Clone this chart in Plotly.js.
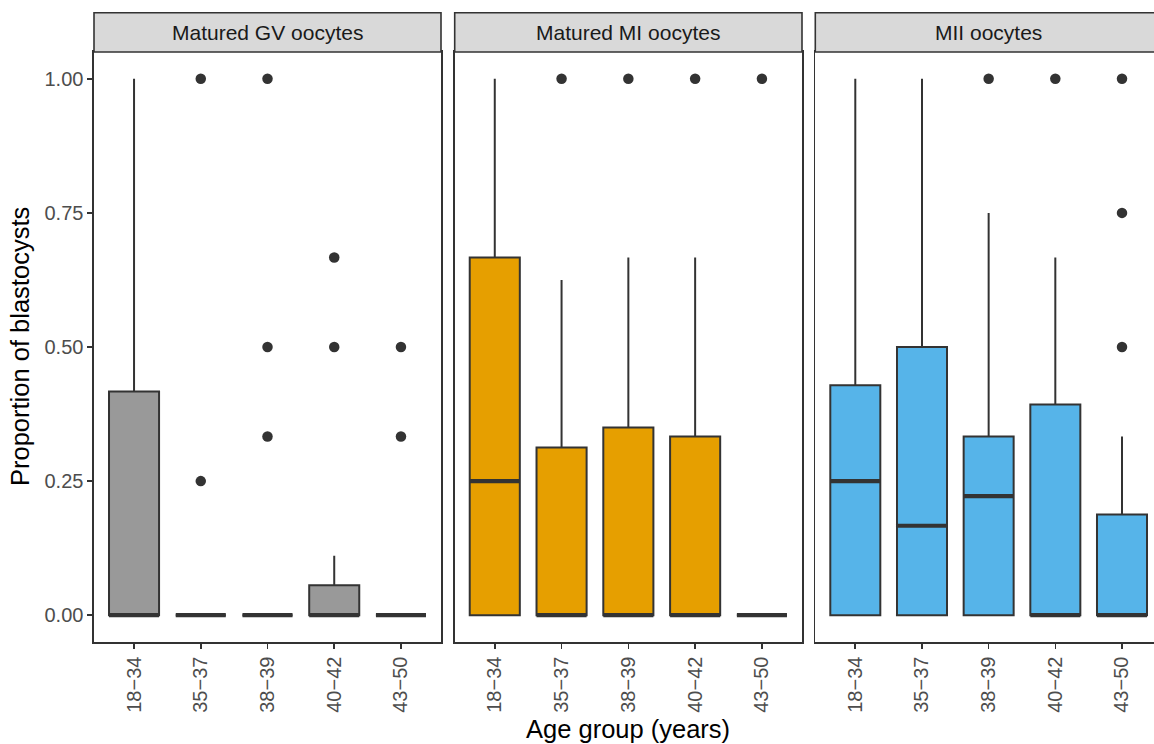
<!DOCTYPE html>
<html>
<head>
<meta charset="utf-8">
<script src="https://cdn.plot.ly/plotly-3.0.1.min.js"></script>
<style>html,body{margin:0;padding:0;overflow:hidden;background:#fff}</style>
</head>
<body>
<div id="chart" style="width:1173px;height:744px"></div>
<script>
// ---- data ----
const ageGroups = ["18\u221234", "35\u221237", "38\u221239", "40\u221242", "43\u221250"];
const panelNames = ["Matured GV oocytes", "Matured MI oocytes", "MII oocytes"];
const panelColors = ["#999999", "#E69F00", "#56B4E9"];

// Matured GV oocytes
const gvQ1     = [0, 0, 0, 0, 0];
const gvMedian = [0, 0, 0, 0, 0];
const gvQ3     = [0.417, 0, 0, 0.056, 0];
const gvLower  = [0, 0, 0, 0, 0];
const gvUpper  = [1.0, 0, 0, 0.111, 0];
const gvOutX   = [2, 2, 3, 3, 3, 4, 4, 5, 5];
const gvOutY   = [1.0, 0.25, 1.0, 0.5, 0.333, 0.667, 0.5, 0.5, 0.333];

// Matured MI oocytes
const miQ1     = [0, 0, 0, 0, 0];
const miMedian = [0.25, 0, 0, 0, 0];
const miQ3     = [0.667, 0.3125, 0.35, 0.333, 0];
const miLower  = [0, 0, 0, 0, 0];
const miUpper  = [1.0, 0.625, 0.667, 0.667, 0];
const miOutX   = [2, 3, 4, 5];
const miOutY   = [1.0, 1.0, 1.0, 1.0];

// MII oocytes
const miiQ1     = [0, 0, 0, 0, 0];
const miiMedian = [0.25, 0.1667, 0.222, 0, 0];
const miiQ3     = [0.4286, 0.5, 0.333, 0.393, 0.1875];
const miiLower  = [0, 0, 0, 0, 0];
const miiUpper  = [1.0, 1.0, 0.75, 0.667, 0.333];
const miiOutX   = [3, 4, 5, 5, 5];
const miiOutY   = [1.0, 1.0, 1.0, 0.75, 0.5];

const yTicks = [0, 0.25, 0.5, 0.75, 1.0];

// ---- build ----
const panelData = [
  {q1: gvQ1, med: gvMedian, q3: gvQ3, lo: gvLower, hi: gvUpper, ox: gvOutX, oy: gvOutY},
  {q1: miQ1, med: miMedian, q3: miQ3, lo: miLower, hi: miUpper, ox: miOutX, oy: miOutY},
  {q1: miiQ1, med: miiMedian, q3: miiQ3, lo: miiLower, hi: miiUpper, ox: miiOutX, oy: miiOutY}
];

const W = 1173, H = 744;
const M = {l: 94, r: 11, t: 52, b: 102};
const PW = W - M.l - M.r, PH = H - M.t - M.b;
const domains = [[0, 347 / PW], [360.7 / PW, 708 / PW], [721.3 / PW, 1]];
const xPos = ageGroups.map((_, i) => i + 1);
const boxW = 0.75;
const dark = "#333333";

const traces = [];
panelData.forEach((p, k) => {
  const xa = k === 0 ? "x" : "x" + (k + 1);
  const ya = k === 0 ? "y" : "y" + (k + 1);
  traces.push({
    type: "box", xaxis: xa, yaxis: ya,
    x: xPos, q1: p.q1, median: p.med, q3: p.q3,
    lowerfence: p.lo, upperfence: p.hi,
    width: boxW, whiskerwidth: 0, boxpoints: false,
    fillcolor: panelColors[k],
    line: {color: dark, width: 2},
    showlegend: false, hoverinfo: "skip"
  });
  // thick median line (ggplot fatten)
  const mx = [], my = [];
  xPos.forEach((x, i) => {
    mx.push(x - boxW / 2, x + boxW / 2, null);
    my.push(p.med[i], p.med[i], null);
  });
  traces.push({
    type: "scatter", mode: "lines", xaxis: xa, yaxis: ya,
    x: mx, y: my, line: {color: dark, width: 4.2},
    showlegend: false, hoverinfo: "skip"
  });
  traces.push({
    type: "scatter", mode: "markers", xaxis: xa, yaxis: ya,
    x: p.ox, y: p.oy,
    marker: {color: dark, size: 10.5, line: {width: 0}},
    showlegend: false, hoverinfo: "skip"
  });
});

const fontFam = "Liberation Sans, Arial, sans-serif";
const layout = {
  width: W, height: H,
  margin: M,
  paper_bgcolor: "#ffffff", plot_bgcolor: "#ffffff",
  showlegend: false, hovermode: false,
  font: {family: fontFam},
  shapes: [], annotations: []
};

for (let k = 0; k < 3; k++) {
  const xk = k === 0 ? "xaxis" : "xaxis" + (k + 1);
  const yk = k === 0 ? "yaxis" : "yaxis" + (k + 1);
  const yId = k === 0 ? "y" : "y" + (k + 1);
  const xId = k === 0 ? "x" : "x" + (k + 1);
  layout[xk] = {
    domain: domains[k], anchor: yId, range: [0.4, 5.6],
    tickmode: "array", tickvals: xPos, ticktext: ageGroups,
    tickangle: -90, ticks: "outside", ticklen: 5, tickwidth: 1.6, tickcolor: dark,
    tickfont: {size: 20, color: "#4D4D4D", family: fontFam},
    showline: true, linecolor: dark, linewidth: 1.6, mirror: true,
    showgrid: false, zeroline: false, fixedrange: true
  };
  layout[yk] = {
    domain: [0, 1], anchor: xId, range: [-0.05, 1.05],
    tickmode: "array", tickvals: yTicks, tickformat: ".2f",
    ticks: k === 0 ? "outside" : "", ticklen: 5, tickwidth: 1.6, tickcolor: dark,
    showticklabels: k === 0,
    tickfont: {size: 20, color: "#4D4D4D", family: fontFam},
    showline: true, linecolor: dark, linewidth: 1.6, mirror: true,
    showgrid: false, zeroline: false, fixedrange: true
  };
  layout.shapes.push({
    type: "rect", xref: "paper", yref: "paper",
    x0: domains[k][0], x1: domains[k][1], y0: 1, y1: 1 + 39.3 / PH,
    fillcolor: "#D9D9D9", line: {color: dark, width: 1.6}, layer: "above"
  });
  layout.annotations.push({
    xref: "paper", yref: "paper",
    x: (domains[k][0] + domains[k][1]) / 2, y: 1 + 19.65 / PH,
    xanchor: "center", yanchor: "middle", showarrow: false,
    text: panelNames[k], font: {size: 21, color: "#1A1A1A", family: fontFam}
  });
}

layout.annotations.push({
  xref: "paper", yref: "paper",
  x: (domains[1][0] + domains[1][1]) / 2, y: -(729 - 642) / PH,
  xanchor: "center", yanchor: "middle", showarrow: false,
  text: "Age group (years)", font: {size: 25.5, color: "#000000", family: fontFam}
});
layout.annotations.push({
  xref: "paper", yref: "paper",
  x: (20 - M.l) / PW, y: 0.5, textangle: -90,
  xanchor: "center", yanchor: "middle", showarrow: false,
  text: "Proportion of blastocysts", font: {size: 25.5, color: "#000000", family: fontFam}
});

Plotly.newPlot("chart", traces, layout, {displayModeBar: false, staticPlot: true});
</script>
</body>
</html>
